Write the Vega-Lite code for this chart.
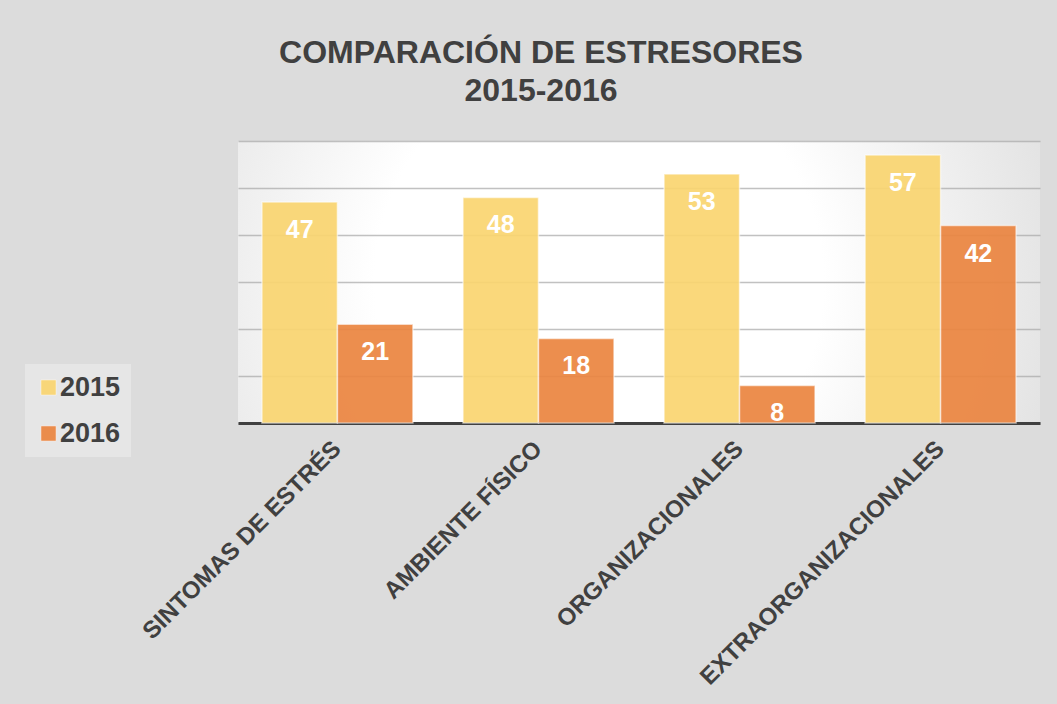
{
  "$schema": "https://vega.github.io/schema/vega-lite/v6.json",
  "width": 802,
  "height": 282,
  "autosize": "none",
  "padding": {"left": 238, "top": 141, "right": 17, "bottom": 281},
  "background": "#dcdcdc",
  "title": {
    "text": ["COMPARACIÓN DE ESTRESORES", "2015-2016"],
    "font": "Liberation Sans",
    "fontSize": 32,
    "fontWeight": "bold",
    "color": "#404040",
    "anchor": "middle",
    "dx": -98,
    "offset": 33,
    "lineHeight": 38
  },
  "data": {
    "values": [
      {"categoria": "SINTOMAS DE ESTRÉS", "anio": "2015", "valor": 47},
      {"categoria": "SINTOMAS DE ESTRÉS", "anio": "2016", "valor": 21},
      {"categoria": "AMBIENTE FÍSICO", "anio": "2015", "valor": 48},
      {"categoria": "AMBIENTE FÍSICO", "anio": "2016", "valor": 18},
      {"categoria": "ORGANIZACIONALES", "anio": "2015", "valor": 53},
      {"categoria": "ORGANIZACIONALES", "anio": "2016", "valor": 8},
      {"categoria": "EXTRAORGANIZACIONALES", "anio": "2015", "valor": 57},
      {"categoria": "EXTRAORGANIZACIONALES", "anio": "2016", "valor": 42}
    ]
  },
  "encoding": {
    "x": {
      "field": "categoria",
      "type": "nominal",
      "sort": null,
      "title": null,
      "scale": {"paddingInner": 0.249, "paddingOuter": 0.119},
      "axis": {
        "labelAngle": -45,
        "labelAlign": "right",
        "labelBaseline": "middle",
        "labelFont": "Liberation Sans",
        "labelFontSize": 24,
        "labelFontWeight": "bold",
        "labelColor": "#404040",
        "labelPadding": 22,
        "labelLimit": 500,
        "ticks": false,
        "domainColor": "#404040",
        "domainWidth": 3,
        "grid": false
      }
    },
    "xOffset": {"field": "anio", "type": "nominal", "scale": {"paddingInner": 0, "paddingOuter": 0}},
    "y": {
      "field": "valor",
      "type": "quantitative",
      "title": null,
      "scale": {"domain": [0, 60], "nice": false},
      "axis": {
        "values": [0, 10, 20, 30, 40, 50, 60],
        "labels": false,
        "ticks": false,
        "domain": false,
        "grid": true,
        "gridColor": "#a6a6a6",
        "gridOpacity": 0.7,
        "gridWidth": 1.5
      }
    }
  },
  "layer": [
    {
      "mark": {"type": "bar", "opacity": 0.92, "stroke": "#ffffff", "strokeOpacity": 0.6, "strokeWidth": 1.5},
      "encoding": {
        "color": {
          "field": "anio",
          "type": "nominal",
          "title": null,
          "scale": {"domain": ["2015", "2016"], "range": ["#FAD570", "#EB8540"]},
          "legend": {
            "orient": "none",
            "legendX": -213,
            "legendY": 223,
            "fillColor": "#e6e6e6",
            "padding": 10,
            "symbolType": "square",
            "symbolSize": 230,
            "symbolStrokeColor": "#ffffff",
            "symbolStrokeWidth": 0.5,
            "labelFont": "Liberation Sans",
            "labelFontSize": 27,
            "labelFontWeight": "bold",
            "labelColor": "#404040",
            "rowPadding": 18,
            "labelOffset": -2
          }
        }
      }
    },
    {
      "mark": {"type": "text", "color": "#ffffff", "font": "Liberation Sans", "fontSize": 25, "fontWeight": "bold", "baseline": "alphabetic", "dy": 36},
      "encoding": {
        "text": {"field": "valor", "type": "quantitative"}
      }
    }
  ],
  "config": {
    "view": {
      "stroke": null,
      "fill": {
        "gradient": "radial",
        "x1": 0.45, "y1": 0.5, "r1": 0,
        "x2": 0.45, "y2": 0.5, "r2": 0.7,
        "stops": [
          {"offset": 0, "color": "#ffffff"},
          {"offset": 0.4, "color": "#ffffff"},
          {"offset": 1, "color": "#d8d8d8"}
        ]
      }
    }
  }
}
